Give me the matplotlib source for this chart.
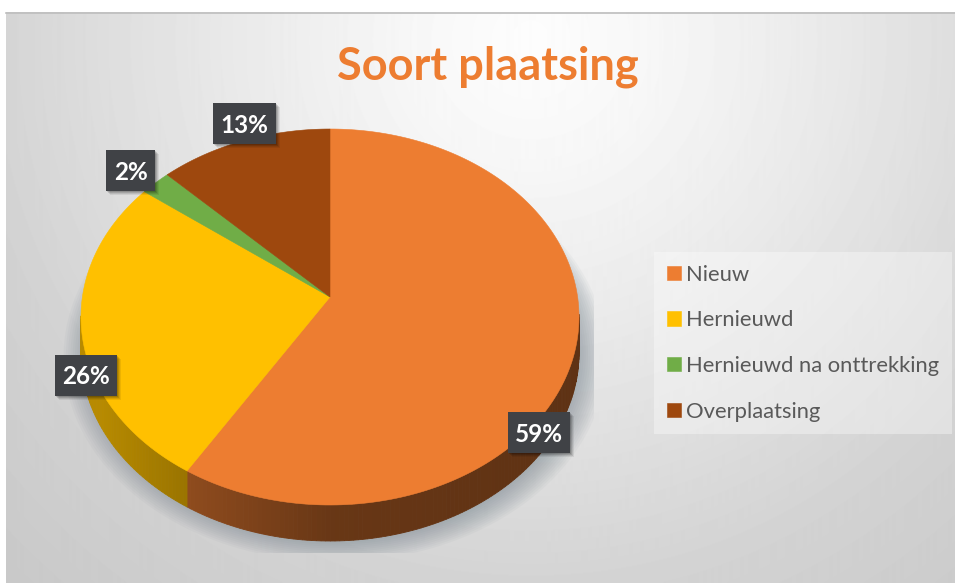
import numpy as np
import matplotlib
matplotlib.use('Agg')
from matplotlib import pyplot as plt
from matplotlib.patches import Polygon, Rectangle

plt.rcParams['font.family'] = ['Lato', 'DejaVu Sans']

# values
categories = ['Nieuw', 'Hernieuwd', 'Hernieuwd na onttrekking', 'Overplaatsing']
values = [58.8, 26.5, 2.2, 12.5]
value_labels = ['59%', '26%', '2%', '13%']
colors = ['#ED7D31', '#FFC000', '#70AD47', '#9E480E']

# label boxes in pixels: centre x, centre y, width
box_x = [539, 86, 130.5, 244.5]
box_y = [432.5, 375, 170, 123.5]
box_w = [62, 62, 49, 63]
BOX_H = 41

# the tilted pie is a circle under a perspective map
CX, CY = 330, 297
K = 40 / 376
RX = 247.6
RY = 168 * (1 + K)
DEPTH = 36


def rim(theta, scale=1.0):
    # theta runs clockwise from the top of the pie
    den = 1 + K * np.cos(theta)
    x = CX + scale * RX * np.sin(theta) / den
    y = CY - scale * RY * np.cos(theta) / den
    return x, y


W, H = 955, 583
fig = plt.figure(figsize=(W / 100, H / 100), dpi=100)
ax = fig.add_axes([0, 0, 1, 1])
ax.axis('off')

# chart background
yy, xx = np.mgrid[12:H, 6:W]
dist = np.hypot(xx - 530, yy - 40)
grey = np.interp(dist, [0, 120, 300, 560, 760], [253, 247, 233, 210, 200]) / 255
ax.imshow(grey, cmap='gray', vmin=0, vmax=1, extent=(6, W, H, 12), aspect='auto', zorder=0)
ax.set_xlim(0, W)
ax.set_ylim(H, 0)
ax.plot([6, W], [12.5, 12.5], color='#bdbdbd', lw=1.2, zorder=1)

# soft shadow below the pie, cut off by its rectangle
clip = Rectangle((0, 0), 594, 553, transform=ax.transData)
t = np.linspace(0, 2 * np.pi, 300)
for s in np.linspace(1.09, 0.97, 14):
    sx, sy = rim(t, s)
    p = Polygon(np.column_stack([sx + 5, sy + 38]), closed=True, fc='#6f7d88', ec='none',
                alpha=0.05, zorder=2)
    ax.add_patch(p)
    p.set_clip_path(clip)

fracs = np.cumsum([0] + values) / sum(values) * 2 * np.pi
handles = []

# side wall, shaded along x, only the part facing the viewer
for i in range(len(values)):
    th = np.linspace(fracs[i], fracs[i + 1], max(int((fracs[i + 1] - fracs[i]) * 60), 2))
    x, y = rim(th)
    rgb = np.array(matplotlib.colors.to_rgb(colors[i]))
    for j in range(len(th) - 1):
        if np.cos(th[j]) > -K and np.cos(th[j + 1]) > -K:
            continue
        f = np.interp((x[j] + x[j + 1]) / 2, [100, 190, 330, 560], [0.72, 0.6, 0.44, 0.40])
        quad = [(x[j], y[j]), (x[j + 1], y[j + 1]),
                (x[j + 1], y[j + 1] + DEPTH), (x[j], y[j] + DEPTH)]
        ax.add_patch(Polygon(quad, closed=True, fc=rgb * f, ec=rgb * f, lw=0.6, zorder=3))

# top face
for i in range(len(values)):
    th = np.linspace(fracs[i], fracs[i + 1], 200)
    x, y = rim(th)
    pts = np.column_stack([np.r_[CX, x], np.r_[CY, y]])
    wedge = Polygon(pts, closed=True, fc=colors[i], ec=colors[i], lw=0.4, zorder=4,
                    label=categories[i])
    ax.add_patch(wedge)
    handles.append(wedge)

# data labels
for lab, bx, by, bw in zip(value_labels, box_x, box_y, box_w):
    for off, a in [(5, 0.07), (4, 0.09), (3, 0.12), (2, 0.14)]:
        ax.add_patch(Rectangle((bx - bw / 2 + off - 1, by - BOX_H / 2 + off - 1), bw, BOX_H,
                               fc='black', ec='none', alpha=a, zorder=5))
    ax.add_patch(Rectangle((bx - bw / 2, by - BOX_H / 2), bw, BOX_H, fc='#404246', ec='none', zorder=6))
    ax.text(bx, by, lab, color='white', fontsize=17.5, fontweight='bold', ha='center',
            va='center_baseline', zorder=7)

ax.text(488, 63, 'Soort plaatsing', color='#ED7D31', fontsize=32.5, fontweight='bold',
        ha='center', va='center_baseline', zorder=7)

leg = ax.legend(handles=handles, loc='upper left', bbox_to_anchor=(654, 252),
                bbox_transform=ax.transData, borderaxespad=0, fontsize=15.8,
                labelcolor='#595959', frameon=True, fancybox=False, facecolor='white',
                edgecolor='none', framealpha=0.35, handlelength=0.64, handleheight=0.64,
                handletextpad=0.27, labelspacing=1.17, borderpad=0.57)
leg.set_zorder(8)

fig.savefig('out.png', dpi=100)
